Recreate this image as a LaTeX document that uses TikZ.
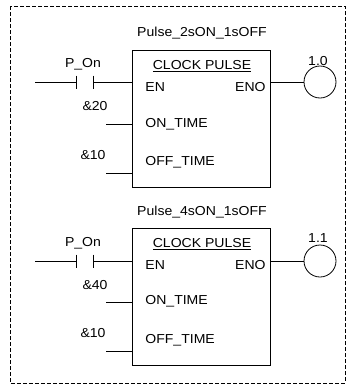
\documentclass[tikz,border=0pt]{standalone}
\usepackage{fontspec}
\setmainfont{Liberation Sans}[FakeStretch=1.08]
\usepackage{tikz}
\usetikzlibrary{positioning}

\begin{document}
\begin{tikzpicture}[x=1pt, y=-1pt, line width=0.8pt, every node/.style={font=\fontsize{13}{15}\selectfont, inner sep=1pt}]
		\tikzset{fblock/.style={rectangle, draw=black, minimum width=138, minimum height=137, inner sep=0}}
		\tikzset{coil/.style={circle, draw=black, minimum size=32, inner sep=0}}
		\tikzset{pinlbl/.style={anchor=west}}
		\useasboundingbox (0,0) rectangle (348,386);
		\draw[dash pattern=on 4pt off 2pt, line width=1pt] (10,6) rectangle (345,383);
		
		% first rung
		\node[fblock] (box1) at (201,118.5) {};
		\node (title1) at (202,33) {Pulse\_2sON\_1sOFF};
		\node (name1) at (202,66) {\underline{CLOCK PULSE}};
		\node[pinlbl] (en1) at (144,87) {EN};
		\node[anchor=east] (eno1) at (267,87) {ENO};
		\node[pinlbl] (ont1) at (144,124) {ON\_TIME};
		\node[pinlbl] (offt1) at (144,162) {OFF\_TIME};
		
		\coordinate (rail1) at (35,82);
		\coordinate (k1a) at (76,82);
		\coordinate (k1b) at (93,82);
		\node (tag1) at (83,64) {P\_On};
		\draw (rail1) -- (k1a);
		\draw ([yshift=6.5pt]k1a) -- ([yshift=-6.5pt]k1a);
		\draw ([yshift=6.5pt]k1b) -- ([yshift=-6.5pt]k1b);
		\draw (k1b) -- (box1.west |- k1b);
		
		\node (v1on) at (95,106) {\&20};
		\coordinate (on1) at (106,124);
		\draw (on1) -- (box1.west |- on1);
		\node (v1off) at (93,155) {\&10};
		\coordinate (off1) at (106,173);
		\draw (off1) -- (box1.west |- off1);
		
		\node[coil] (q1) at (320,82) {};
		\node (a1) at (318,61) {1.0};
		\draw (box1.east |- q1) -- (q1);
		
		% second rung
		\node[fblock] (box2) at (201,296.5) {};
		\node (title2) at (202,212) {Pulse\_4sON\_1sOFF};
		\node (name2) at (202,244) {\underline{CLOCK PULSE}};
		\node[pinlbl] (en2) at (144,265) {EN};
		\node[anchor=east] (eno2) at (267,265) {ENO};
		\node[pinlbl] (ont2) at (144,301) {ON\_TIME};
		\node[pinlbl] (offt2) at (144,340) {OFF\_TIME};
		
		\coordinate (rail2) at (35,261);
		\coordinate (k2a) at (76,261);
		\coordinate (k2b) at (93,261);
		\node (tag2) at (83,243) {P\_On};
		\draw (rail2) -- (k2a);
		\draw ([yshift=6.5pt]k2a) -- ([yshift=-6.5pt]k2a);
		\draw ([yshift=6.5pt]k2b) -- ([yshift=-6.5pt]k2b);
		\draw (k2b) -- (box2.west |- k2b);
		
		\node (v2on) at (95,285) {\&40};
		\coordinate (on2) at (106,302);
		\draw (on2) -- (box2.west |- on2);
		\node (v2off) at (93,333) {\&10};
		\coordinate (off2) at (106,351);
		\draw (off2) -- (box2.west |- off2);
		
		\node[coil] (q2) at (320,261) {};
		\node (a2) at (318,238) {1.1};
		\draw (box2.east |- q2) -- (q2);
	\end{tikzpicture}
\end{document}
